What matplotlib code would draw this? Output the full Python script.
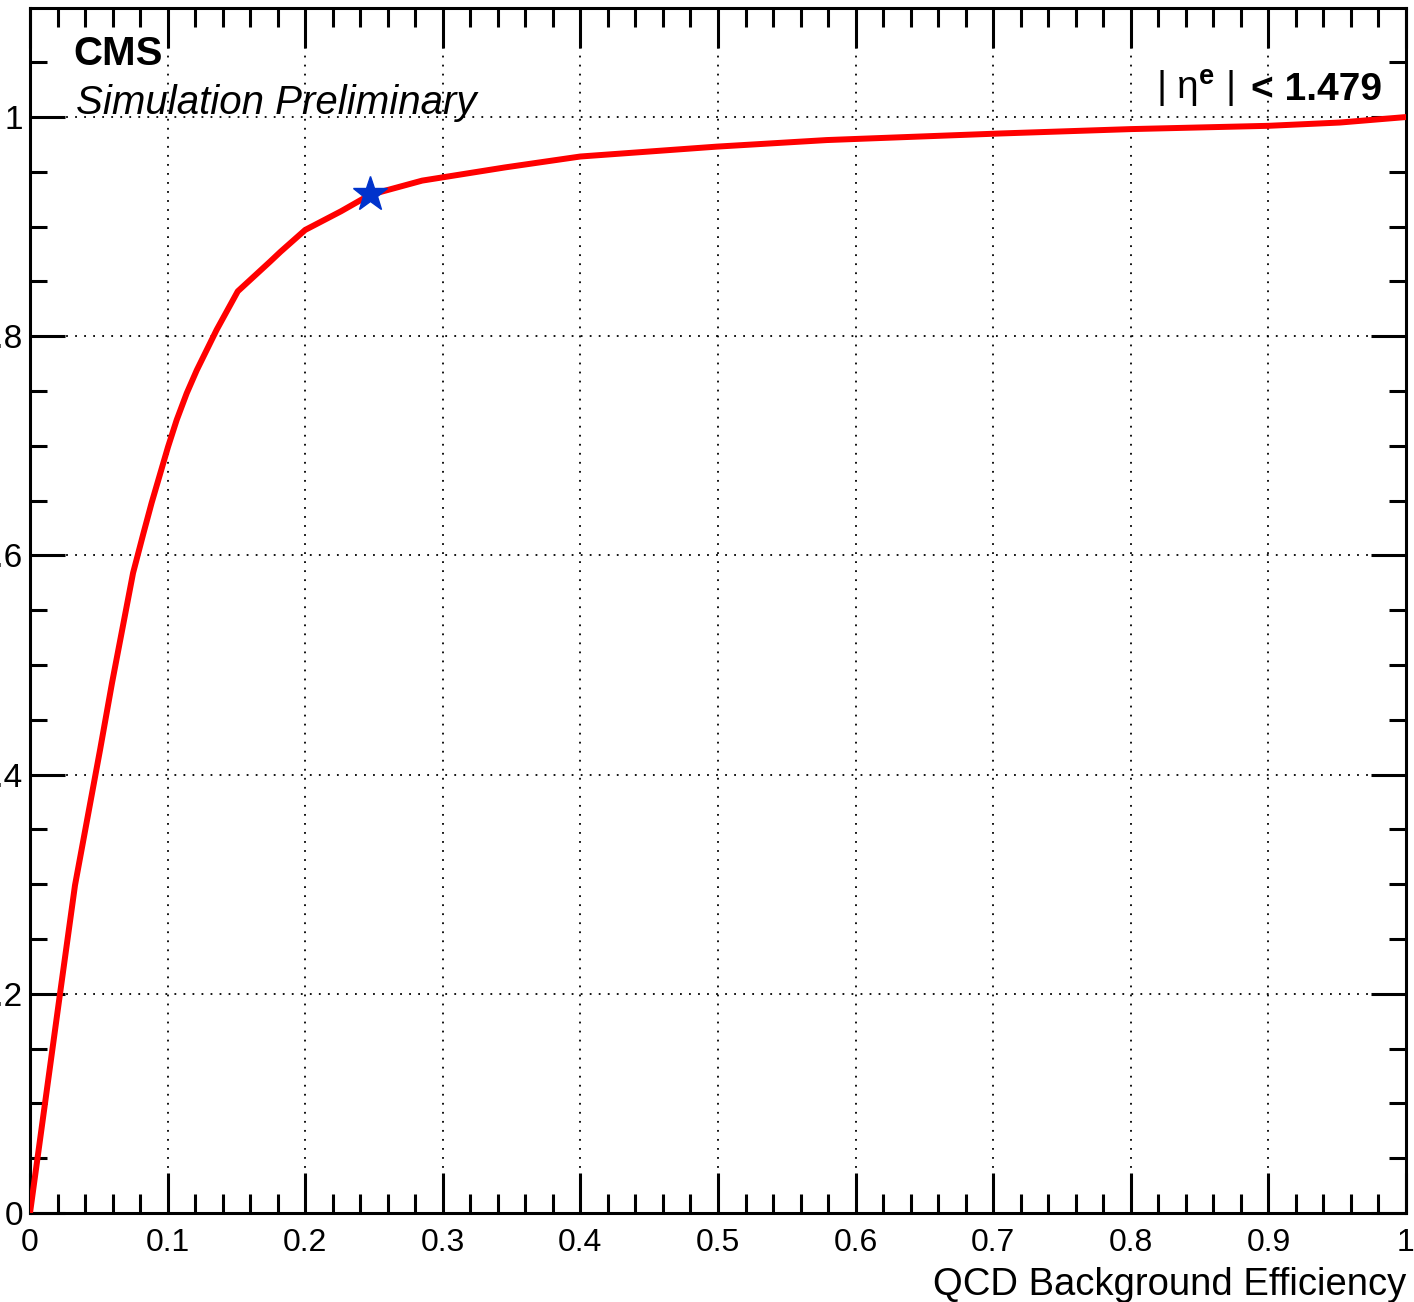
import matplotlib
matplotlib.use("Agg")
import matplotlib.pyplot as plt
from matplotlib.ticker import MultipleLocator, FixedLocator

plt.rcParams["font.family"] = ["Liberation Sans", "DejaVu Sans"]
plt.rcParams["mathtext.fontset"] = "custom"
plt.rcParams["mathtext.rm"] = "Liberation Sans"
plt.rcParams["mathtext.bf"] = "Liberation Sans:bold"

# ROC curve (signal vs QCD background efficiency)
bkg_eff = [0.0, 0.0218, 0.0327, 0.0509, 0.0596, 0.0749, 0.0824, 0.0884,
           0.1003, 0.1066, 0.1139, 0.1212, 0.1357, 0.151, 0.1744, 0.182,
           0.200, 0.226, 0.247, 0.285, 0.345, 0.400, 0.499, 0.579, 0.705,
           0.800, 0.900, 0.952, 1.0]
sig_eff = [0.0, 0.200, 0.299, 0.4225, 0.4836, 0.584, 0.620, 0.648,
           0.699, 0.7236, 0.748, 0.769, 0.806, 0.841, 0.868, 0.877,
           0.897, 0.914, 0.929, 0.942, 0.954, 0.964, 0.973, 0.979, 0.985,
           0.989, 0.992, 0.995, 1.0]

# working point
wp_bkg = [0.247]
wp_sig = [0.930]

xticks = [0, 0.1, 0.2, 0.3, 0.4, 0.5, 0.6, 0.7, 0.8, 0.9, 1.0]
xticklabels = ["0", "0.1", "0.2", "0.3", "0.4", "0.5", "0.6", "0.7", "0.8", "0.9", "1"]
yticks = [0, 0.2, 0.4, 0.6, 0.8, 1.0]
yticklabels = ["0", "0.2", "0.4", "0.6", "0.8", "1"]

W, H = 1414, 1302
X0, X1, Y0, Y1 = 30, 1406, 1213, 8   # frame in pixels
fig = plt.figure(figsize=(W / 100, H / 100), dpi=100)
ax = fig.add_axes([X0 / W, 1 - Y0 / H, (X1 - X0) / W, (Y0 - Y1) / H])


def px(x, y):
    # pixel position -> axes fraction
    return (x - X0) / (X1 - X0), (Y0 - y) / (Y0 - Y1)


ax.plot(bkg_eff, sig_eff, color="#ff0000", lw=4.3, solid_joinstyle="round", zorder=3)
ax.plot(wp_bkg, wp_sig, marker="*", color="#0033cc", markersize=26, ls="none", zorder=4)

ax.set_xlim(0, 1)
ax.set_ylim(0, 1.0995)

ax.xaxis.set_major_locator(FixedLocator(xticks))
ax.set_xticklabels(xticklabels)
ax.xaxis.set_minor_locator(MultipleLocator(0.02))
ax.yaxis.set_major_locator(FixedLocator(yticks))
ax.set_yticklabels(yticklabels)
ax.yaxis.set_minor_locator(MultipleLocator(0.05))

ax.tick_params(which="both", direction="in", top=True, right=True, width=2.2)
ax.tick_params(axis="x", which="major", length=29, pad=11, labelsize=23)
ax.tick_params(axis="x", which="minor", length=14)
ax.tick_params(axis="y", which="major", length=25, pad=5, labelsize=24)
ax.tick_params(axis="y", which="minor", length=12)

for s in ax.spines.values():
    s.set_linewidth(2.2)

ax.grid(True, which="major", color="black", lw=1.3, ls=(0, (1, 4)))
ax.set_axisbelow(True)

ax.set_xlabel("QCD Background Efficiency", fontsize=27.5, loc="right", labelpad=6)

ax.text(*px(73, 65), "CMS", transform=ax.transAxes,
        fontsize=29, fontweight="bold", va="baseline", ha="left")
ax.text(*px(76, 114), "Simulation Preliminary", transform=ax.transAxes,
        fontsize=29, style="italic", va="baseline", ha="left")
ax.text(*px(1382, 100), "< 1.479", transform=ax.transAxes,
        fontsize=28, fontweight="bold", va="baseline", ha="right")
ax.text(*px(1234, 100), r"| η$^{\bf e}$ |", transform=ax.transAxes,
        fontsize=28, va="baseline", ha="right")

fig.savefig("out.png", dpi=100)
